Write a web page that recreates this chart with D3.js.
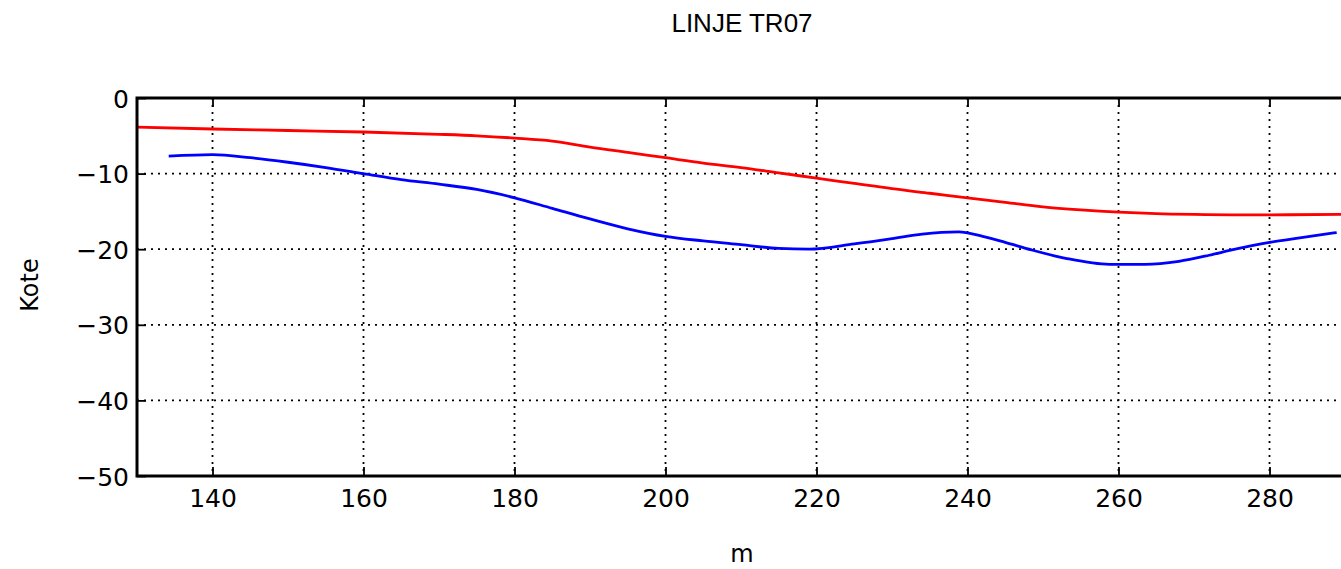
<!DOCTYPE html>
<html>
<head>
<meta charset="utf-8">
<script src="https://d3js.org/d3.v7.min.js"></script>
<style>
  body { margin: 0; background: #fff; }
  svg { display: block; }
</style>
</head>
<body>
<script>
// profile data
var blueX = [134.2, 140, 145, 150, 155, 160, 165, 170, 175, 180, 185, 190, 195, 200, 205, 210, 215, 219, 225, 230, 234, 238.8, 242, 245, 248.5, 253, 258.8, 263.5, 268, 272, 275, 280, 284, 288.9];
var blueY = [-7.7, -7.5, -7.9, -8.5, -9.2, -10.0, -10.8, -11.4, -12.1, -13.2, -14.6, -16.0, -17.3, -18.3, -18.9, -19.4, -19.9, -20.0, -19.3, -18.6, -18.0, -17.7, -18.3, -19.1, -20.1, -21.2, -22.0, -22.0, -21.6, -20.8, -20.1, -19.1, -18.5, -17.8];

var redX = [130, 140, 150, 160, 170, 175, 180, 185, 190, 195, 200, 205, 210, 215, 220, 225, 230, 235, 240, 245, 250, 255, 260, 265, 270, 275, 280, 290];
var redY = [-3.85, -4.1, -4.3, -4.5, -4.8, -5.0, -5.3, -5.7, -6.5, -7.2, -7.9, -8.6, -9.2, -9.9, -10.6, -11.3, -12.0, -12.6, -13.2, -13.8, -14.4, -14.8, -15.1, -15.3, -15.4, -15.45, -15.45, -15.4];

var xTicks = [140, 160, 180, 200, 220, 240, 260, 280];
var yTicks = [0, -10, -20, -30, -40, -50];

var W = 1341, H = 569;
var pLeft = 137, pRight = 1345, pTop = 98, pBottom = 476;

var svg = d3.select('body').append('svg')
    .attr('width', W)
    .attr('height', H);

var x = d3.scaleLinear().domain([130, 290]).range([pLeft, pRight]);
var y = d3.scaleLinear().domain([-50, 0]).range([pBottom, pTop]);

svg.append('defs').append('clipPath')
    .attr('id', 'plot')
    .append('rect')
    .attr('x', pLeft).attr('y', pTop)
    .attr('width', pRight - pLeft).attr('height', pBottom - pTop);

// grid
var grid = svg.append('g').attr('id', 'grid');
grid.selectAll('line.gx')
    .data(xTicks)
    .enter()
    .append('line')
    .attr('class', 'gx')
    .attr('x1', function(d){ return x(d); })
    .attr('x2', function(d){ return x(d); })
    .attr('y1', pTop).attr('y2', pBottom);
grid.selectAll('line.gy')
    .data(yTicks.slice(1, -1))
    .enter()
    .append('line')
    .attr('class', 'gy')
    .attr('x1', pLeft).attr('x2', pRight)
    .attr('y1', function(d){ return y(d); })
    .attr('y2', function(d){ return y(d); });
grid.selectAll('line')
    .attr('stroke', '#000')
    .attr('stroke-width', 1.8)
    .attr('stroke-dasharray', '2,5');

// curves
var line = d3.line()
    .x(function(d){ return x(d[0]); })
    .y(function(d){ return y(d[1]); })
    .curve(d3.curveMonotoneX);

var curves = svg.append('g').attr('clip-path', 'url(#plot)');
curves.append('path')
    .datum(d3.zip(redX, redY))
    .attr('d', line)
    .attr('fill', 'none')
    .attr('stroke', '#ff0000')
    .attr('stroke-width', 2.8);
curves.append('path')
    .datum(d3.zip(blueX, blueY))
    .attr('d', line)
    .attr('fill', 'none')
    .attr('stroke', '#0000ff')
    .attr('stroke-width', 2.8);

// axes with inward ticks
var tickFont = "'DejaVu Sans', sans-serif";
var bottomAxis = svg.append('g')
    .attr('transform', 'translate(0,' + pBottom + ')')
    .call(d3.axisBottom(x).tickValues(xTicks).tickSize(-9).tickPadding(13).tickFormat(d3.format('d')));
var topAxis = svg.append('g')
    .attr('transform', 'translate(0,' + pTop + ')')
    .call(d3.axisTop(x).tickValues(xTicks).tickSize(-9).tickFormat(''));
var leftAxis = svg.append('g')
    .attr('transform', 'translate(' + pLeft + ',0)')
    .call(d3.axisLeft(y).tickValues(yTicks).tickSize(-9).tickPadding(8)
        .tickFormat(function(d){ return d < 0 ? '\u2212' + Math.abs(d) : d; }));

[bottomAxis, topAxis, leftAxis].forEach(function(a){
    a.select('.domain').remove();
    a.selectAll('.tick line').attr('stroke', '#000').attr('stroke-width', 1.8);
    a.selectAll('text')
        .attr('fill', '#000')
        .style('font-family', tickFont)
        .style('font-size', '25px');
});
leftAxis.selectAll('text').attr('dy', '0.36em');

// frame
svg.append('rect')
    .attr('x', pLeft).attr('y', pTop)
    .attr('width', pRight - pLeft).attr('height', pBottom - pTop)
    .attr('fill', 'none')
    .attr('stroke', '#000')
    .attr('stroke-width', 3);

// labels
svg.append('text')
    .attr('x', 742).attr('y', 32)
    .attr('text-anchor', 'middle')
    .style('font-family', "'Liberation Sans', Arial, sans-serif")
    .style('font-size', '26px')
    .text('LINJE TR07');
svg.append('text')
    .attr('x', 742).attr('y', 562)
    .attr('text-anchor', 'middle')
    .style('font-family', tickFont)
    .style('font-size', '24px')
    .text('m');
svg.append('text')
    .attr('transform', 'translate(38,285) rotate(-90)')
    .attr('text-anchor', 'middle')
    .style('font-family', tickFont)
    .style('font-size', '24px')
    .text('Kote');
</script>
</body>
</html>
